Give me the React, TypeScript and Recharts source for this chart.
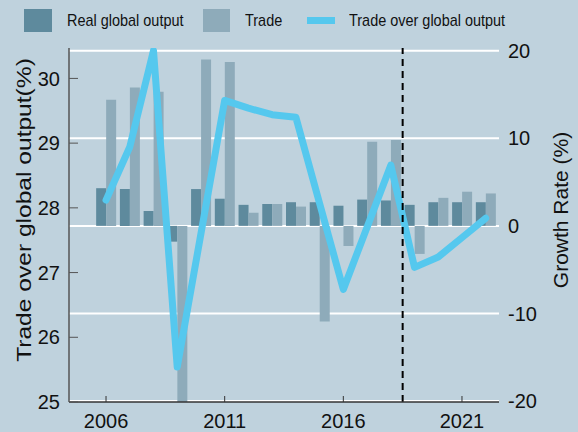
import React from 'react';
import {
  ComposedChart,
  Bar,
  Line,
  XAxis,
  YAxis,
  CartesianGrid,
  ReferenceLine,
} from 'recharts';

// years on the x axis
const years = [2006, 2007, 2008, 2009, 2010, 2011, 2012, 2013, 2014, 2015, 2016, 2017, 2018, 2019, 2020, 2021, 2022];
// growth rates (%), right axis
const realOutput = [4.3, 4.2, 1.7, -1.8, 4.2, 3.1, 2.4, 2.5, 2.7, 2.7, 2.3, 3.0, 2.9, 2.4, 2.7, 2.7, 2.7];
const trade = [14.4, 15.8, 15.3, -20.6, 19.0, 18.7, 1.5, 2.5, 2.2, -10.9, -2.3, 9.6, 9.8, -3.2, 3.2, 3.9, 3.7];
// trade over global output (%), left axis
const tradeShare = [28.12, 28.94, 30.43, 25.54, 27.6, 29.66, 29.54, 29.44, 29.4, 28.07, 26.74, 27.7, 28.66, 27.08, 27.24, 27.54, 27.84];

const xTicks = [2006, 2011, 2016, 2021];
const leftTicks = [25, 26, 27, 28, 29, 30];
const rightTicks = [-20, -10, 0, 10, 20];
const forecastStart = 2018.5;

const BG = '#bfd2dd';
const REAL = '#5e8a9d';
const TRADE = '#8eabba';
const LINE = '#55c8ee';
const FONT = '"Liberation Sans", Arial, sans-serif';

const data = years.map((year, i) => ({
  year,
  real: realOutput[i],
  trade: trade[i],
  share: tradeShare[i],
}));

const tickStyle = { fill: '#111', fontSize: 20, fontFamily: FONT };

const legendText: React.CSSProperties = {
  position: 'absolute',
  top: 11,
  fontSize: 17,
  color: '#111',
  transform: 'scaleX(0.85)',
  transformOrigin: 'left center',
  whiteSpace: 'nowrap',
};

const App: React.FC = () => {
  return (
    <div style={{ position: 'absolute', left: 0, top: 0, width: 578, height: 432, background: BG, fontFamily: FONT, overflow: 'hidden' }}>
      {/* legend */}
      <div style={{ position: 'absolute', left: 24, top: 9, width: 28, height: 23, background: REAL }} />
      <div style={{ ...legendText, left: 67 }}>Real global output</div>
      <div style={{ position: 'absolute', left: 203, top: 9, width: 27, height: 23, background: TRADE }} />
      <div style={{ ...legendText, left: 245 }}>Trade</div>
      <div style={{ position: 'absolute', left: 307, top: 17, width: 28, height: 7, background: LINE }} />
      <div style={{ ...legendText, left: 349 }}>Trade over global output</div>

      {/* axis titles */}
      <div style={{ position: 'absolute', left: 24, top: 210, fontSize: 21, color: '#111', whiteSpace: 'nowrap', transform: 'translate(-50%, -50%) rotate(-90deg) scaleX(1.17)' }}>
        Trade over global output(%)
      </div>
      <div style={{ position: 'absolute', left: 561, top: 210, fontSize: 21, color: '#111', whiteSpace: 'nowrap', transform: 'translate(-50%, -50%) rotate(-90deg)' }}>
        Growth Rate (%)
      </div>

      <ComposedChart
        width={578}
        height={432}
        data={data}
        margin={{ top: 48, right: 0, bottom: 0, left: 0 }}
        barSize={10}
        barGap={0}
        style={{ position: 'absolute', left: 0, top: 0 }}
      >
        <CartesianGrid yAxisId="right" vertical={false} stroke="#ffffff" strokeWidth={2} horizontalValues={rightTicks} />
        <XAxis
          dataKey="year"
          type="number"
          domain={[2004.44, 2022.56]}
          allowDataOverflow
          ticks={xTicks}
          height={30}
          tickSize={-6}
          tickMargin={18}
          tick={tickStyle}
          axisLine={{ stroke: '#333', strokeWidth: 1.5 }}
          tickLine={{ stroke: '#333' }}
        />
        <YAxis
          yAxisId="left"
          orientation="left"
          domain={[25, 30.47]}
          allowDataOverflow
          ticks={leftTicks}
          width={69}
          tickSize={-9}
          tickMargin={18}
          tick={tickStyle}
          axisLine={{ stroke: '#555', strokeWidth: 1.5 }}
          tickLine={{ stroke: '#555' }}
        />
        <YAxis
          yAxisId="right"
          orientation="right"
          domain={[-20.1, 20.3]}
          allowDataOverflow
          ticks={rightTicks}
          width={79}
          tickSize={0}
          tickMargin={9}
          tick={{ ...tickStyle, textAnchor: 'start' }}
          axisLine={false}
          tickLine={false}
        />
        <Bar yAxisId="right" dataKey="real" name="Real global output" fill={REAL} isAnimationActive={false} />
        <Bar yAxisId="right" dataKey="trade" name="Trade" fill={TRADE} isAnimationActive={false} />
        <Line
          yAxisId="left"
          dataKey="share"
          name="Trade over global output"
          stroke={LINE}
          strokeWidth={7}
          dot={false}
          strokeLinejoin="round"
          strokeLinecap="round"
          isAnimationActive={false}
        />
        <ReferenceLine yAxisId="right" x={forecastStart} stroke="#000" strokeWidth={2} strokeDasharray="7 5" />
      </ComposedChart>
    </div>
  );
};

export default App;
